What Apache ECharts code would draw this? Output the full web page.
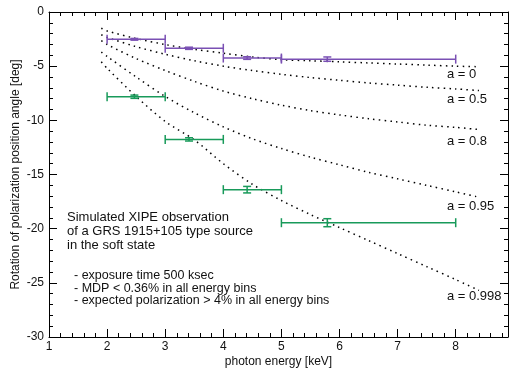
<!DOCTYPE html>
<html>
<head>
<meta charset="utf-8">
<script src="https://cdn.jsdelivr.net/npm/echarts@6/dist/echarts.min.js"></script>
<style>
  html, body { margin: 0; padding: 0; background: #fff; }
  #chart { width: 510px; height: 370px; }
</style>
</head>
<body>
<div id="chart"></div>
<script>
// energy bins (keV)
const binLo = [2, 3, 4, 5];
const binHi = [3, 4, 5, 8];
const binMid = [2.47, 3.41, 4.41, 5.79];

// simulated rotation angles [deg]
const lowSpinY = [-2.52, -3.35, -4.25, -4.35];
const lowSpinErr = [0.08, 0.1, 0.12, 0.2];
const highSpinY = [-7.82, -11.76, -16.4, -19.45];
const highSpinErr = [0.15, 0.15, 0.3, 0.37];

// model curves
const curveX = [1.9, 2, 2.5, 3, 3.5, 4, 4.5, 5, 5.5, 6, 6.5, 7, 7.5, 8, 8.4];
const curveA0 = [-1.5, -1.75, -2.45, -3.0, -3.45, -3.8, -4.15, -4.4, -4.5, -4.6, -4.7, -4.8, -4.9, -5.0, -5.05];
const curveA05 = [-2.1, -2.35, -3.2, -3.9, -4.5, -5.0, -5.4, -5.75, -6.05, -6.3, -6.55, -6.75, -6.95, -7.1, -7.25];
const curveA08 = [-2.65, -3.0, -4.3, -5.4, -6.4, -7.3, -8.0, -8.6, -9.1, -9.5, -9.85, -10.15, -10.45, -10.65, -10.85];
const curveA095 = [-3.7, -4.1, -6.0, -7.8, -9.3, -10.6, -11.7, -12.6, -13.4, -14.1, -14.8, -15.4, -16.0, -16.6, -17.1];
const curveA0998 = [-4.6, -5.2, -7.8, -10.1, -11.8, -14.0, -15.9, -17.4, -18.7, -19.9, -21.1, -22.3, -23.5, -24.7, -25.7];
const curveNames = ['a = 0', 'a = 0.5', 'a = 0.8', 'a = 0.95', 'a = 0.998'];
const curves = [curveA0, curveA05, curveA08, curveA095, curveA0998];

const xTicks = [1, 2, 3, 4, 5, 6, 7, 8];
const yTicks = [0, -5, -10, -15, -20, -25, -30];

const font = '"Liberation Sans", Arial, Helvetica, sans-serif';
const purple = '#7a50b4';
const green = '#189a5a';

const chart = echarts.init(document.getElementById('chart'), null, { renderer: 'canvas' });

function errorRows(y, err) {
  return binMid.map((x, i) => [x, y[i], binLo[i], binHi[i], y[i] - err[i], y[i] + err[i]]);
}

function renderErr(color) {
  return function (params, api) {
    const c = api.coord([api.value(0), api.value(1)]);
    const l = api.coord([api.value(2), api.value(1)]);
    const r = api.coord([api.value(3), api.value(1)]);
    const lo = api.coord([api.value(0), api.value(4)]);
    const hi = api.coord([api.value(0), api.value(5)]);
    const style = { stroke: color, lineWidth: 1.5, fill: null };
    const line = (x1, y1, x2, y2) => ({ type: 'line', shape: { x1, y1, x2, y2 }, style });
    return {
      type: 'group',
      children: [
        line(l[0], l[1], r[0], r[1]),
        line(l[0], l[1] - 4.5, l[0], l[1] + 4.5),
        line(r[0], r[1] - 4.5, r[0], r[1] + 4.5),
        line(c[0], lo[1], c[0], hi[1]),
        line(c[0] - 4, lo[1], c[0] + 4, lo[1]),
        line(c[0] - 4, hi[1], c[0] + 4, hi[1])
      ]
    };
  };
}

const axisText = { color: '#111', fontFamily: font, fontSize: 12 };
const nameText = { color: '#111', fontFamily: font, fontSize: 12 };

// inside ticks are drawn as outside ticks with negative length
function xAx(position, interval, len, main) {
  return {
    type: 'value', position, min: 1, max: 8.9, interval,
    axisLine: main ? { show: true, onZero: false, lineStyle: { color: '#000', width: 1 } } : { show: false, onZero: false },
    axisTick: { show: true, inside: false, length: -len, lineStyle: { color: '#000', width: 1 } },
    axisLabel: main && position === 'bottom' ? Object.assign({ show: true, margin: 4, showMaxLabel: false,
      formatter: (v) => (xTicks.includes(v) ? String(v) : '') }, axisText) : { show: false },
    splitLine: { show: false }
  };
}

function yAx(position, labels) {
  return {
    type: 'value', position, min: -30, max: 0, interval: 5,
    axisLine: { show: true, onZero: false, lineStyle: { color: '#000', width: 1 } },
    axisTick: { show: true, inside: false, length: -8, lineStyle: { color: '#000', width: 1 } },
    minorTick: { show: true, splitNumber: 5, length: -4, lineStyle: { color: '#000', width: 1 } },
    axisLabel: labels ? Object.assign({ show: true, margin: 5,
      formatter: (v) => (yTicks.includes(v) ? String(v) : '') }, axisText) : { show: false },
    splitLine: { show: false }
  };
}

const xAxes = [
  xAx('bottom', 1, 8, true),
  xAx('bottom', 0.2, 4, false),
  xAx('top', 1, 8, true),
  xAx('top', 0.2, 4, false)
];
Object.assign(xAxes[0], { name: 'photon energy [keV]', nameLocation: 'middle', nameGap: 19,
  nameMoveOverlap: false, nameTextStyle: nameText });

const yAxes = [yAx('left', true), yAx('right', false)];
Object.assign(yAxes[0], { name: 'Rotation of polarization position angle [deg]', nameLocation: 'middle', nameGap: 27,
  nameMoveOverlap: false, nameTextStyle: nameText });

const labelDy = [8, 9, 12, 9, 6];

const curveSeries = curves.map((vals, k) => ({
  name: curveNames[k],
  type: 'line',
  data: curveX.map((x, i) => [x, vals[i]]),
  smooth: 0.3,
  showSymbol: false,
  silent: true,
  lineStyle: { color: '#000', width: 1.5, type: [1.5, 4.2], cap: 'butt' },
  endLabel: {
    show: true,
    formatter: curveNames[k],
    color: '#111',
    fontFamily: font,
    fontSize: 13,
    align: 'left',
    offset: [-40, labelDy[k]]
  },
  z: 2
}));

const noteLines1 = ['Simulated XIPE observation', 'of a GRS 1915+105 type source', 'in the soft state'];
const noteLines2 = ['- exposure time 500 ksec', '- MDP < 0.36% in all energy bins', '- expected polarization > 4% in all energy bins'];

const notes = [];
noteLines1.forEach((t, i) => notes.push({ type: 'text', left: 67, top: 211 + i * 14,
  style: { text: t, fill: '#111', font: '13px ' + font } }));
noteLines2.forEach((t, i) => notes.push({ type: 'text', left: 74, top: 269 + i * 12.6,
  style: { text: t, fill: '#111', font: '12.5px ' + font } }));

chart.setOption({
  backgroundColor: '#fff',
  animation: false,
  grid: { left: 49, right: 2, top: 12, bottom: 33, containLabel: false, outerBoundsMode: 'none' },
  xAxis: xAxes,
  yAxis: yAxes,
  graphic: notes,
  series: curveSeries.concat([
    {
      type: 'custom',
      name: 'a = 0 data',
      renderItem: renderErr(purple),
      data: errorRows(lowSpinY, lowSpinErr),
      encode: { x: [0, 2, 3], y: [1, 4, 5] },
      z: 3
    },
    {
      type: 'custom',
      name: 'a = 0.998 data',
      renderItem: renderErr(green),
      data: errorRows(highSpinY, highSpinErr),
      encode: { x: [0, 2, 3], y: [1, 4, 5] },
      z: 3
    }
  ])
});
</script>
</body>
</html>
